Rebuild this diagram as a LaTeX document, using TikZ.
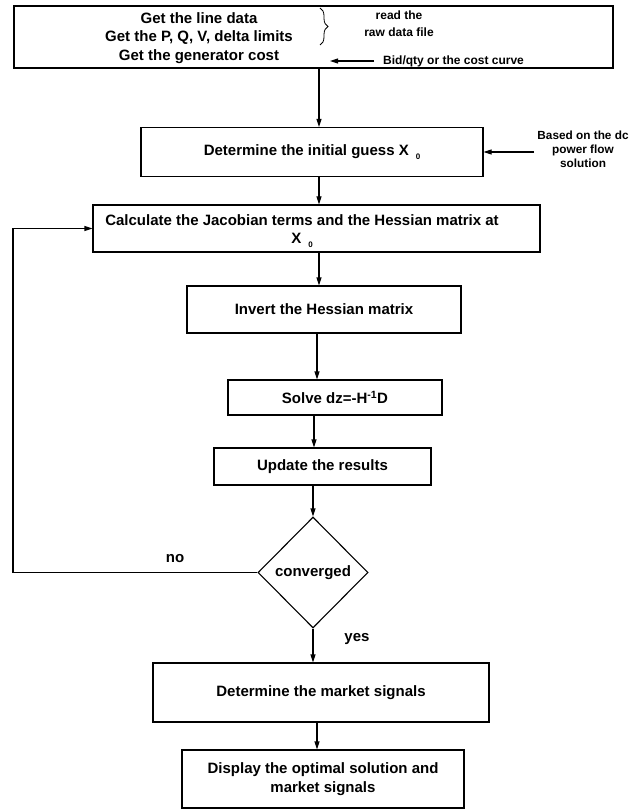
\documentclass[tikz,border=0pt]{standalone}
\usepackage{fontspec}
\setmainfont{Liberation Sans}
\usetikzlibrary{arrows.meta,shapes.geometric,decorations.pathreplacing}
\tikzset{
  box/.style={draw, line width=1.1pt, rectangle, inner sep=0pt, align=center,
              font=\bfseries\fontsize{15}{18.5}\selectfont},
  txt/.style={inner sep=0pt, align=center, font=\bfseries\fontsize{15}{18.5}\selectfont},
  small/.style={inner sep=0pt, align=center, font=\bfseries\fontsize{12}{14}\selectfont},
  arr/.style={line width=1.1pt, -{Triangle[length=8pt,width=5pt]}},
  decision/.style={draw, line width=1.1pt, diamond, inner sep=0pt, align=center,
              font=\bfseries\fontsize{15}{18.5}\selectfont}
}
\newcommand{\xsub}{X\hspace{7pt}\raisebox{-4pt}{\fontsize{8}{8}\selectfont 0}}
\begin{document}
\begin{tikzpicture}[x=1pt,y=1pt]
\useasboundingbox (0,0) rectangle (630,-810);
\fill[white] (0,0) rectangle (630,-810);

% columns for vertical connectors
\coordinate (xa) at (319,0);
\coordinate (xb) at (317,0);
\coordinate (xc) at (314,0);
\coordinate (lp) at (13,0);

% boxes
\node[box, minimum width=599pt, minimum height=62pt] (b1) at (313.5,-37) {};
\node[txt] (t1) at (199,-38) {Get the line data\\Get the P, Q, V, delta limits\\Get the generator cost};
\node[box, minimum width=342pt, minimum height=49pt] (b2) at (312,-152) {Determine the initial guess \xsub};
\node[box, minimum width=447pt, minimum height=47pt] (b3) at (316.5,-228.5) {};
\node[txt] (t3) at (302,-231) {Calculate the Jacobian terms and the Hessian matrix at\\\xsub};
\node[box, minimum width=274pt, minimum height=47pt] (b4) at (324,-309.5) {Invert the Hessian matrix};
\node[box, minimum width=214pt, minimum height=35pt] (b5) at (335,-397.5) {Solve dz=-H\textsuperscript{-1}D};
\node[box, minimum width=217pt, minimum height=37pt] (b6) at (322.5,-466.5) {Update the results};
\node[decision, minimum width=110pt, minimum height=111pt] (d) at (313,-572.5) {converged};
\node[box, minimum width=336pt, minimum height=59pt] (b7) at (321,-692.5) {Determine the market signals};
\node[box, minimum width=282pt, minimum height=58pt] (b8) at (323,-779) {Display the optimal solution and\\market signals};

% side notes
\draw[line width=0.8pt, decorate, decoration={brace, amplitude=8pt}] (320,-8) -- (320,-45);
\node[small, font=\bfseries\fontsize{12}{17}\selectfont] (raw) at (399,-23.5) {read the\\raw data file};
\node[small, anchor=west] (bid) at (383,-61) {Bid/qty or the cost curve};
\coordinate (gc) at (330,-61);
\draw[arr] ([xshift=-9pt]bid.west) -- (gc);
\node[small, font=\bfseries\fontsize{11.8}{14}\selectfont] (dc) at (583,-149) {Based on the dc\\power flow\\solution};
\draw[arr] ([xshift=-3pt]dc.west |- b2.east) -- (b2.east);

% main flow
\draw[arr] (b1.south -| xa) -- (b2.north -| xa);
\draw[arr] (b2.south -| xa) -- (b3.north -| xa);
\draw[arr] (b3.south -| xa) -- (b4.north -| xa);
\draw[arr] (b4.south -| xb) -- (b5.north -| xb);
\draw[arr] (b5.south -| xc) -- (b6.north -| xc);
\draw[arr] (b6.south -| d.north) -- (d.north);
\draw[arr] (d.south) -- (b7.north -| d.south);
\draw[arr] (b7.south -| xb) -- (b8.north -| xb);

% loop back
\draw[arr] (d.west) -- (d.west -| lp) |- (b3.west);
\node[txt] (no) at (175,-559) {no};
\node[txt] (yes) at (357,-639) {yes};
\end{tikzpicture}
\end{document}
